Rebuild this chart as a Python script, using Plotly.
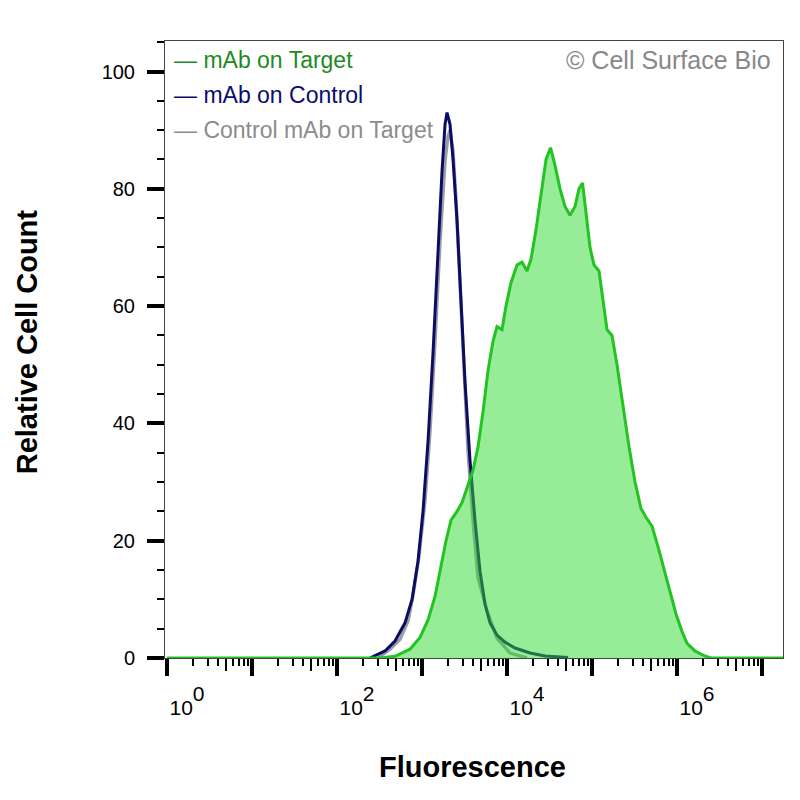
import plotly.graph_objects as go

# Histogram traces (fluorescence, relative cell count)
target_x = [1, 321, 481, 722, 947, 1177, 1422, 1674, 1916, 2193, 2582, 2956, 3383,
            3981, 4559, 5221, 5975, 6840, 7621, 8733, 9728, 11140, 13120, 15010,
            17180, 19150, 21930, 25120, 28760, 32500, 36700, 42060, 48100, 55080,
            63100, 70300, 77300, 84900, 94700, 105600, 120800, 134600, 150100,
            171800, 196800, 231600, 272500, 320600, 377000, 431700, 508200,
            597300, 703000, 827500, 973000, 1146000, 1312000, 1629000, 2080000,
            2512000, 17660000]
target_y = [0, 0, 0.3, 1.5, 3.5, 6.5, 10.5, 15.5, 20, 23.5, 25, 26.5, 29,
            32, 36, 42, 49, 54, 56.5, 56, 60, 64, 67, 67.5,
            66, 68, 73, 79, 85, 87, 84, 80, 77, 75.5,
            77, 80, 81, 76, 70, 67, 66, 61, 56,
            55, 50, 43, 36, 30, 25.5, 24, 22.5,
            19, 15, 11, 7.5, 4.5, 2.5, 1.2, 0.4,
            0, 0]

control_x = [244, 367, 481, 631, 763, 897, 1027, 1177, 1347, 1542, 1719, 1866,
             1968, 2134, 2316, 2582, 2878, 3206, 3672, 4205, 4812, 5510, 6310,
             7621, 9470, 12420, 18660, 28000, 52240]
control_y = [0, 1.2, 2.9, 6, 10, 16.5, 25, 37, 52, 69.5, 83, 91,
             93, 91, 85, 74.6, 61, 47, 33.6, 23.4, 14.8, 9.2, 6,
             3.9, 2.7, 1.7, 0.85, 0.35, 0.1]

isotype_x = [304, 420, 551, 684, 783, 922, 1084, 1242, 1422, 1629, 1866, 2023,
             2134, 2316, 2512, 2800, 3118, 3474, 3981, 4559, 5820, 7621, 10840,
             17180]
isotype_y = [0, 1.5, 3.2, 6.3, 10.6, 17.4, 26.8, 38.7, 54, 71, 84.8, 89,
             90, 86.5, 78, 64.3, 49, 35.3, 23.4, 13.7, 8, 3.4, 0.85,
             0]

legend_names = ["mAb on Target", "mAb on Control", "Control mAb on Target"]
legend_colors = ["#1f8a1f", "#0c0c6e", "#8c8c8c"]

decades = [1, 10, 100, 1e3, 1e4, 1e5, 1e6, 1e7]
decade_labels = ["0", "", "2", "", "4", "", "6", ""]

FONT = "Liberation Sans, Arial, sans-serif"

minor_vals = [m * d for d in decades for m in (2, 3, 4, 6, 7, 8, 9)]
five_vals = [5 * d for d in decades]
# full-size raised exponent, like the reference
ticktext = ["10<span style='baseline-shift:14px'>%s</span>" % s if s else ""
            for s in decade_labels]

fig = go.Figure()

fig.add_trace(go.Scatter(x=isotype_x, y=isotype_y, mode="lines",
                         line=dict(color="#9c9ca6", width=3.4),
                         name=legend_names[2]))
fig.add_trace(go.Scatter(x=control_x, y=control_y, mode="lines",
                         line=dict(color="#0c0c64", width=3),
                         name=legend_names[1]))
fig.add_trace(go.Scatter(x=target_x, y=target_y, mode="lines",
                         line=dict(color="#22c322", width=3),
                         fill="tozeroy", fillcolor="rgba(48,218,48,0.5)",
                         name=legend_names[0]))

# extra axis only for the longer ticks at 5 x 10^n
fig.add_trace(go.Scatter(x=[1, 1e7], y=[0, 0], xaxis="x2", mode="lines",
                         line=dict(width=0), hoverinfo="skip", showlegend=False))

xrange = [-0.024, 7.247]
fig.update_layout(
    width=800, height=800,
    margin=dict(l=157, r=25, t=33, b=150),
    paper_bgcolor="white", plot_bgcolor="white",
    showlegend=False,
    font=dict(family=FONT, color="black", size=20),
    xaxis=dict(type="log", range=xrange,
               tickmode="array", tickvals=decades, ticktext=ticktext,
               ticks="outside", ticklen=17, tickwidth=3.5, tickcolor="black",
               ticklabelshift=20, ticklabelstandoff=14,
               minor=dict(tickvals=minor_vals, ticks="outside", ticklen=7,
                          tickwidth=2, tickcolor="black"),
               showline=True, linecolor="#444", linewidth=1, mirror=True,
               showgrid=False, zeroline=False,
               tickfont=dict(size=21)),
    xaxis2=dict(type="log", range=xrange, overlaying="x", anchor="y", side="bottom",
                tickmode="array", tickvals=five_vals, ticktext=[""] * len(five_vals),
                ticks="outside", ticklen=12, tickwidth=2, tickcolor="black",
                showline=False, showgrid=False, zeroline=False),
    yaxis=dict(range=[0, 105.2],
               tickmode="array", tickvals=[0, 20, 40, 60, 80, 100],
               ticks="outside", ticklen=17, tickwidth=4, tickcolor="black",
               ticklabelstandoff=8,
               minor=dict(dtick=5, ticks="outside", ticklen=7, tickwidth=2,
                          tickcolor="black"),
               showline=True, linecolor="#444", linewidth=1, mirror=True,
               showgrid=False, zeroline=False,
               tickfont=dict(size=20)),
)

for i, (name, color) in enumerate(zip(legend_names, legend_colors)):
    fig.add_annotation(xref="paper", yref="paper", x=0.011, y=0.969 - i * 0.0567,
                       xanchor="left", yanchor="middle", showarrow=False,
                       text="\u2014 " + name,
                       font=dict(family=FONT, size=23, color=color))

fig.add_annotation(xref="paper", yref="paper", x=0.984, y=0.969,
                   xanchor="right", yanchor="middle", showarrow=False,
                   text="\u00a9 Cell Surface Bio",
                   font=dict(family=FONT, size=25, color="#888888"))

fig.add_annotation(xref="paper", yref="paper", x=0.498, y=-0.177,
                   xanchor="center", yanchor="middle", showarrow=False,
                   text="<b>Fluorescence</b>",
                   font=dict(family=FONT, size=29, color="black"))
fig.add_annotation(xref="paper", yref="paper", x=-0.223, y=0.512,
                   xanchor="center", yanchor="middle", showarrow=False,
                   textangle=-90, text="<b>Relative Cell Count</b>",
                   font=dict(family=FONT, size=29, color="black"))

fig.write_html("out.html")
